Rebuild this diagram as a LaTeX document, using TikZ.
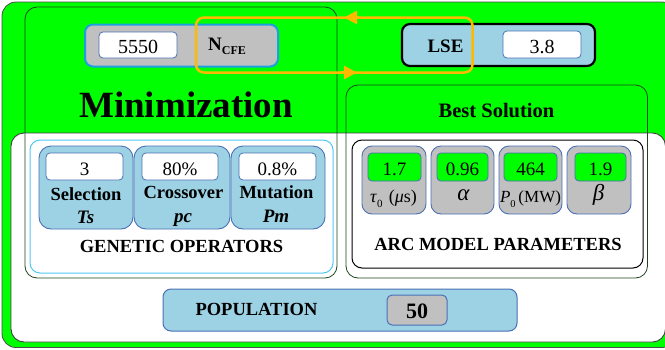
\documentclass[tikz,border=0pt]{standalone}
\usepackage{fontspec}
\setmainfont{Liberation Serif}
\usetikzlibrary{arrows.meta}
\definecolor{gfill}{HTML}{00FF00}
\definecolor{lblue}{HTML}{9DD2E4}
\definecolor{opborder}{HTML}{4A70B5}
\definecolor{gbox}{HTML}{C0C0C0}
\definecolor{cyanb}{HTML}{1E9FE0}
\definecolor{lcyan}{HTML}{50C8F5}
\definecolor{framec}{HTML}{1E461E}
\definecolor{orng}{HTML}{FFBA00}
\newcommand{\fs}[1]{\fontsize{#1}{#1}\selectfont}
\tikzset{
  rb/.style={draw, inner sep=0pt, outer sep=0pt},
  lbl/.style={inner sep=0pt, anchor=base},
  valbox/.style={rb, fill=white, draw=opborder, line width=0.8pt, rounded corners=4pt},
  grnbox/.style={rb, fill=gfill, draw=opborder, line width=0.8pt, rounded corners=4pt, minimum height=28pt},
  opbox/.style={rb, fill=lblue, draw=opborder, line width=0.9pt, rounded corners=12pt, minimum height=83pt},
  parbox/.style={rb, fill=gbox, draw=opborder, line width=0.9pt, rounded corners=10pt, minimum height=68pt},
  frame/.style={draw=framec, line width=0.8pt, rounded corners=12pt},
  loopline/.style={draw=orng, line width=2.5pt},
}
\begin{document}
\begin{tikzpicture}[x=1pt,y=-1pt]
\clip (0,0) rectangle (665,349);
% background frames
\draw[fill=gfill, draw=black!70, line width=0.8pt, rounded corners=14pt] (2,2) rectangle (676,347.5);
\draw[fill=white, draw=black!75, line width=0.9pt, rounded corners=13pt] (11,133) rectangle (665.5,342);
\draw[frame] (25,7) rectangle (337,278);
\draw[frame] (346,85) rectangle (647.5,278);

% N_CFE box
\node[rb, fill=gbox, draw=cyanb, line width=2pt, rounded corners=8pt, minimum width=193pt, minimum height=42pt] (ncfe) at (181.5,45.5) {};
\node[valbox, minimum width=78pt, minimum height=26pt] (v5550) at (138,45) {};
\node[lbl] (t5550) at (138,53) {\fs{20}5550};
\node[lbl] (tncfe) at (227,50) {\fs{19}\bfseries N\raisebox{-0.25em}{\fs{12}CFE}};

% LSE box
\node[rb, fill=lblue, draw=black, line width=2.2pt, rounded corners=8pt, minimum width=193pt, minimum height=42pt] (lse) at (498.5,45) {};
\node[valbox, minimum width=78pt, minimum height=27pt] (v38) at (542,44.5) {};
\node[lbl] (t38) at (542,53) {\fs{20}3.8};
\node[lbl] (tlse) at (445.5,52) {\fs{19}\bfseries LSE};

% orange loop
\draw[loopline, rounded corners=8pt] (196,17.5) rectangle (472.5,72.5);
\coordinate (atop1) at (359,17.5);
\coordinate (atop2) at (344,17.5);
\coordinate (abot1) at (341,72.5);
\coordinate (abot2) at (357,72.5);
\draw[loopline, -{Triangle[length=13pt,width=13pt]}] (atop1) -- (atop2);
\draw[loopline, -{Triangle[length=13pt,width=13pt]}] (abot1) -- (abot2);

% titles
\node[lbl] (tmin) at (186,117) {\fs{37}\bfseries Minimization};
\node[lbl] (tbest) at (496.5,117) {\fs{20.5}\bfseries Best Solution};

% genetic operators
\node[rb, fill=white, draw=lcyan, line width=1pt, rounded corners=10pt, minimum width=303pt, minimum height=133pt] (gen) at (181.5,206.5) {};
\node[opbox, minimum width=94pt] (sel) at (86,187.5) {};
\node[opbox, minimum width=96pt] (cro) at (182,187.5) {};
\node[opbox, minimum width=94pt] (mut) at (278,187.5) {};
\node[valbox, minimum width=77pt, minimum height=27pt] (vsel) at (84.5,166.5) {};
\node[valbox, minimum width=76pt, minimum height=27pt] (vcro) at (180,166.5) {};
\node[valbox, minimum width=77pt, minimum height=27pt] (vmut) at (277.5,166.5) {};
\node[lbl] (tsel3) at (84.5,175) {\fs{19}3};
\node[lbl] (tcro80) at (180,175) {\fs{19}80\%};
\node[lbl] (tmut08) at (277.5,175) {\fs{19}0.8\%};
\node[lbl] (lsel) at (86,200) {\fs{18.5}\bfseries Selection};
\node[lbl] (lcro) at (183.5,198) {\fs{18.5}\bfseries Crossover};
\node[lbl] (lmut) at (276.5,198.5) {\fs{18.5}\bfseries Mutation};
\node[lbl] (lts) at (85.5,223.5) {\fs{19}\bfseries\itshape Ts};
\node[lbl] (lpc) at (183,222) {\fs{19}\bfseries\itshape pc};
\node[lbl] (lpm) at (276,222.5) {\fs{19}\bfseries\itshape Pm};
\node[lbl] (tgen) at (181.5,252.5) {\fs{18.5}\bfseries GENETIC OPERATORS};

% arc model parameters
\node[rb, fill=white, draw=black, line width=1pt, rounded corners=10pt, minimum width=291pt, minimum height=128pt] (arc) at (497.5,204) {};
\node[parbox, minimum width=64pt] (p1) at (394,180) {};
\node[parbox, minimum width=63pt] (p2) at (462.5,180) {};
\node[parbox, minimum width=63pt] (p3) at (530.5,180) {};
\node[parbox, minimum width=64pt] (p4) at (599,180) {};
\node[grnbox, minimum width=53pt] (g1) at (394.5,167) {};
\node[grnbox, minimum width=51pt] (g2) at (462.5,167) {};
\node[grnbox, minimum width=53pt] (g3) at (530.5,167) {};
\node[grnbox, minimum width=51pt] (g4) at (600.5,167) {};
\node[lbl] (tg1) at (394.5,175.5) {\fs{19}1.7};
\node[lbl] (tg2) at (462.5,175.5) {\fs{19}0.96};
\node[lbl] (tg3) at (530.5,175.5) {\fs{19}464};
\node[lbl] (tg4) at (600.5,175.5) {\fs{19}1.9};
\node[lbl] (lp1) at (393.5,202) {\fs{18}\itshape τ\/\raisebox{-0.3em}{\upshape\fs{11}0}\hspace{0.35em}\upshape(\itshape μ\upshape s)};
\node[lbl] (lp2) at (463.5,200) {\fs{23}\itshape α};
\node[lbl] (lp3) at (530.5,202) {\fs{17}\itshape P\raisebox{-0.3em}{\upshape\fs{10.5}0}\,\upshape(MW)};
\node[lbl] (lp4) at (598.5,200) {\fs{23}\itshape β};
\node[lbl] (tarc) at (498,250.5) {\fs{18.5}\bfseries ARC MODEL PARAMETERS};

% population
\node[rb, fill=lblue, draw=opborder, line width=1pt, rounded corners=8pt, minimum width=354pt, minimum height=42pt] (pop) at (340,310) {};
\node[rb, fill=gbox, draw=opborder, line width=1pt, rounded corners=5pt, minimum width=60pt, minimum height=30pt] (n50) at (417,310) {};
\node[lbl] (tpop) at (256.5,315) {\fs{18.5}\bfseries POPULATION};
\node[lbl] (t50) at (417,318) {\fs{22}\bfseries 50};
\end{tikzpicture}
\end{document}
